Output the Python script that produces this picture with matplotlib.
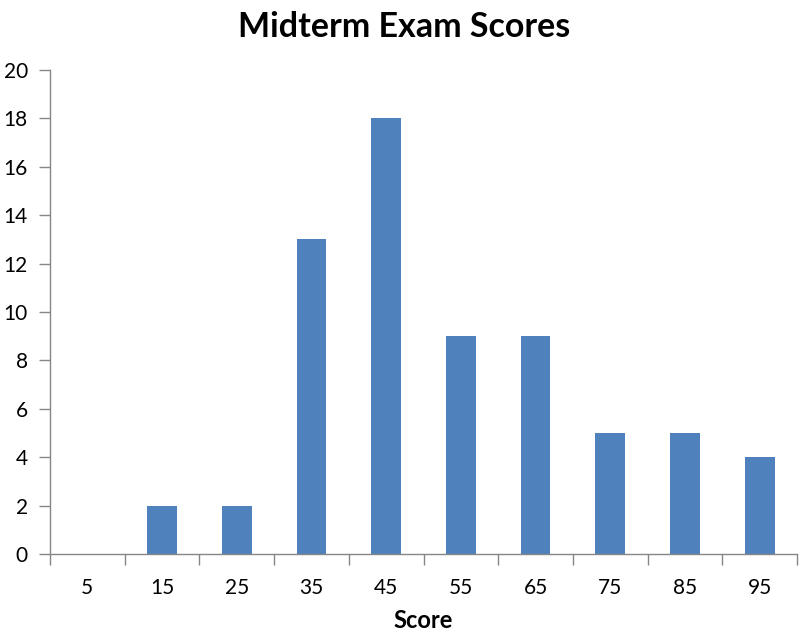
import matplotlib
matplotlib.use("Agg")
import matplotlib.pyplot as plt
import numpy as np

plt.rcParams["font.family"] = ["Lato", "DejaVu Sans"]

# histogram bins (midpoints) and counts
scores = ["5", "15", "25", "35", "45", "55", "65", "75", "85", "95"]
counts = [0, 2, 2, 13, 18, 9, 9, 5, 5, 4]
y_ticks = [0, 2, 4, 6, 8, 10, 12, 14, 16, 18, 20]

BAR_COLOR = "#4F81BD"
AXIS_COLOR = "#868686"

fig = plt.figure(figsize=(8.03, 6.39), dpi=100)
ax = fig.add_axes([50 / 803, 1 - 554 / 639, 747 / 803, 484 / 639])

x = np.arange(len(scores))
ax.bar(x, counts, width=0.4, color=BAR_COLOR, zorder=2)

ax.set_xlim(-0.5, len(scores) - 0.5)
ax.set_ylim(0, 20)
ax.set_yticks(y_ticks)
ax.set_yticklabels([str(v) for v in y_ticks])

# category labels centred, tick marks on the boundaries
ax.set_xticks(x)
ax.set_xticklabels(scores)
ax.set_xticks(np.arange(-0.5, len(scores)), minor=True)
ax.tick_params(axis="x", which="major", length=0, pad=17, labelsize=15)
ax.tick_params(axis="x", which="minor", length=8, width=1, color=AXIS_COLOR, direction="out")
ax.tick_params(axis="y", length=8, width=1, color=AXIS_COLOR, direction="out", pad=8, labelsize=15)

for side in ["top", "right"]:
    ax.spines[side].set_visible(False)
for side in ["left", "bottom"]:
    ax.spines[side].set_color(AXIS_COLOR)
    ax.spines[side].set_linewidth(1)

ax.set_xlabel("Score", fontsize=17, fontweight="bold", labelpad=8)
fig.text(404 / 803, 1 - 27 / 639, "Midterm Exam Scores", ha="center", va="center",
         fontsize=24.5, fontweight="bold")

fig.savefig("out.png", dpi=100)
